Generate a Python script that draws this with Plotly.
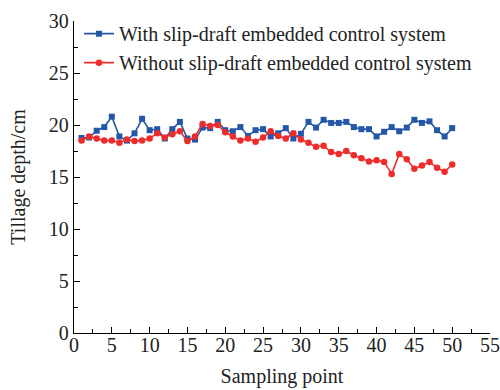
import plotly.graph_objects as go

sampling_points = list(range(1, 51))

with_system = [18.75, 18.8, 19.45, 19.8, 20.8, 18.9, 18.5, 19.2, 20.6, 19.5,
               19.6, 18.7, 19.6, 20.3, 18.7, 18.6, 19.75, 19.7, 20.3, 19.5,
               19.4, 19.8, 18.95, 19.5, 19.6, 18.9, 19.2, 19.7, 18.7, 19.15,
               20.3, 19.75, 20.5, 20.2, 20.2, 20.3, 19.8, 19.6, 19.6, 18.9,
               19.35, 19.8, 19.4, 19.75, 20.5, 20.2, 20.35, 19.5, 18.9, 19.7]

without_system = [18.5, 18.9, 18.7, 18.5, 18.5, 18.3, 18.6, 18.45, 18.5, 18.7,
                  19.2, 18.8, 19.1, 19.4, 18.45, 18.9, 20.1, 19.9, 20.0, 19.3,
                  18.9, 18.5, 18.7, 18.4, 18.8, 19.4, 18.95, 18.7, 19.2, 18.6,
                  18.3, 17.9, 18.0, 17.4, 17.2, 17.5, 17.1, 16.8, 16.5, 16.6,
                  16.45, 15.3, 17.2, 16.7, 15.8, 16.1, 16.45, 15.9, 15.5, 16.2]

series_names = ["With slip-draft embedded control system",
                "Without slip-draft embedded control system"]

x_ticks = list(range(0, 56, 5))
y_ticks = list(range(0, 31, 5))

FONT = "Liberation Serif, Times New Roman, serif"
FS = 20

fig = go.Figure()
fig.add_trace(go.Scatter(
    x=sampling_points, y=with_system, name=series_names[0],
    mode="lines+markers",
    line=dict(color="#2457A8", width=1.6),
    marker=dict(symbol="square", size=6, color="#2457A8"),
))
fig.add_trace(go.Scatter(
    x=sampling_points, y=without_system, name=series_names[1],
    mode="lines+markers",
    line=dict(color="#EE2C2C", width=1.6),
    marker=dict(symbol="circle", size=6.5, color="#EE2C2C"),
))

axis_common = dict(
    showline=True, linecolor="black", linewidth=1.3,
    ticks="inside", ticklen=6, tickwidth=1.2, tickcolor="black",
    showgrid=False, zeroline=False, mirror=False,
    tickfont=dict(family=FONT, size=FS, color="#222"),
)

fig.update_xaxes(
    range=[0, 55], tickvals=x_ticks, ticklabelstandoff=-6,
    title=dict(text="Sampling point", font=dict(family=FONT, size=FS, color="#222"), standoff=13),
    minor=dict(ticks="inside", ticklen=3.5, tickwidth=1, tickcolor="black", dtick=2.5, tick0=0),
    **axis_common,
)
fig.update_yaxes(
    range=[0, 30], tickvals=y_ticks,
    title=dict(text="Tillage depth/cm", font=dict(family=FONT, size=FS, color="#222"), standoff=17),
    minor=dict(ticks="inside", ticklen=3.5, tickwidth=1, tickcolor="black", dtick=2.5, tick0=0),
    **axis_common,
)

fig.update_layout(
    width=500, height=390,
    margin=dict(l=74, r=10, t=21, b=57, autoexpand=False),
    plot_bgcolor="white", paper_bgcolor="white",
    font=dict(family=FONT, size=FS, color="#222"),
    legend=dict(
        x=0.012, y=1.022, xanchor="left", yanchor="top",
        bgcolor="rgba(0,0,0,0)", borderwidth=0,
        font=dict(family=FONT, size=FS, color="#222"),
        tracegroupgap=0, itemwidth=30,
    ),
)

fig.write_html("out.html")
